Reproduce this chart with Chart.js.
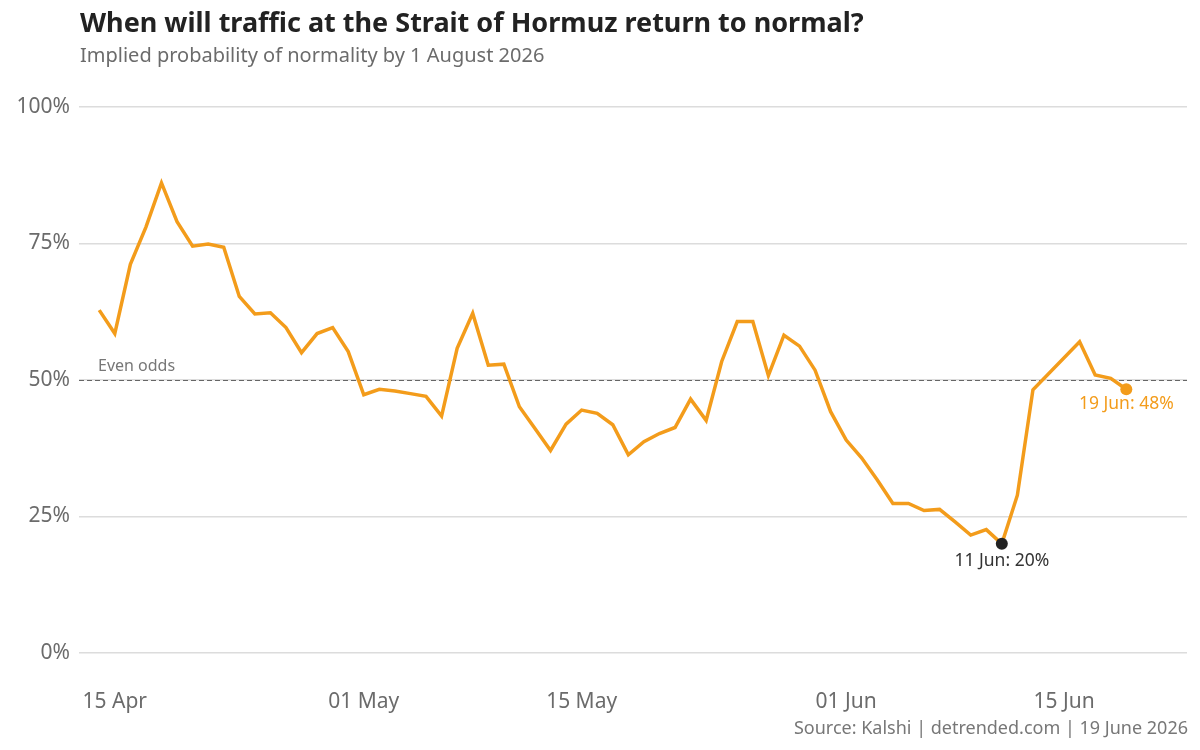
<!DOCTYPE html>
<html>
<head>
<meta charset="utf-8">
<script src="https://cdn.jsdelivr.net/npm/chart.js@4.4.1/dist/chart.umd.min.js"></script>
<style>
  html, body { margin: 0; padding: 0; background: #fff; }
  #wrap { position: relative; width: 1200px; height: 750px; font-family: "Noto Sans", sans-serif; }
  #chart { position: absolute; left: 0; top: 0; }
  .txt { position: absolute; white-space: nowrap; line-height: 1; }
  #title { left: 80px; top: 8px; font-size: 27px; font-weight: 700; color: #222; }
  #subtitle { left: 80px; top: 45px; font-size: 20px; color: #6b6b6b; }
  #source { right: 12px; top: 718px; font-size: 18px; color: #777; }
</style>
</head>
<body>
<div id="wrap">
  <canvas id="chart" width="1200" height="750"></canvas>
  <div class="txt" id="title">When will traffic at the Strait of Hormuz return to normal?</div>
  <div class="txt" id="subtitle">Implied probability of normality by 1 August 2026</div>
  <div class="txt" id="source">Source: Kalshi | detrended.com | 19 June 2026</div>
</div>
<script>
// days counted from 14 Apr 2026 (day 0); 12-13 Jun have no reading
const dayOffsets = [
  0, 1, 2, 3, 4, 5, 6, 7, 8, 9,
  10, 11, 12, 13, 14, 15, 16, 17, 18, 19,
  20, 21, 22, 23, 24, 25, 26, 27, 28, 29,
  30, 31, 32, 33, 34, 35, 36, 37, 38, 39,
  40, 41, 42, 43, 44, 45, 46, 47, 48, 49,
  50, 51, 52, 53, 54, 55, 56, 57, 58, 59,
  60, 63, 64, 65, 66
];
const probability = [
  62.8, 58.5, 71.2, 78.0, 86.1, 79.0, 74.5, 74.9, 74.3, 65.3,
  62.1, 62.3, 59.6, 55.0, 58.5, 59.6, 55.2, 47.3, 48.3, 48.0,
  47.5, 47.0, 43.4, 55.8, 62.2, 52.7, 52.9, 45.1, 41.1, 37.1,
  41.9, 44.5, 43.9, 41.8, 36.3, 38.7, 40.2, 41.3, 46.5, 42.6,
  53.4, 60.7, 60.7, 50.8, 58.2, 56.2, 51.8, 44.2, 39.0, 35.7,
  31.7, 27.4, 27.4, 26.1, 26.3, 24.0, 21.6, 22.6, 20.0, 28.9,
  48.2, 57.0, 50.9, 50.3, 48.3
];
const tickDays = [1, 17, 31, 48, 62];
const tickLabels = ["15 Apr", "01 May", "15 May", "01 Jun", "15 Jun"];
const yTicks = [0, 25, 50, 75, 100];
const evenOdds = 50;
const lowLabel = "11 Jun: 20%";
const lastLabel = "19 Jun: 48%";

const ORANGE = "#f39c1b";
const DARK = "#222";

const points = dayOffsets.map((d, i) => ({ x: d, y: probability[i] }));
const lowIdx = probability.indexOf(Math.min(...probability));
const lastIdx = probability.length - 1;

// dashed even-odds line plus the text annotations
const annotations = {
  id: "annotations",
  beforeDatasetsDraw(chart) {
    const { ctx, chartArea, scales } = chart;
    const y = Math.round(scales.y.getPixelForValue(evenOdds)) + 0.5;
    ctx.save();
    ctx.strokeStyle = "#666";
    ctx.lineWidth = 1;
    ctx.setLineDash([5, 3]);
    ctx.beginPath();
    ctx.moveTo(chartArea.left, y);
    ctx.lineTo(chartArea.right, y);
    ctx.stroke();
    ctx.setLineDash([]);
    ctx.font = '16px "Noto Sans"';
    ctx.fillStyle = "#777";
    ctx.textAlign = "left";
    ctx.textBaseline = "alphabetic";
    ctx.fillText("Even odds", 98, y - 10);
    ctx.restore();
  },
  afterDatasetsDraw(chart) {
    const { ctx, scales } = chart;
    ctx.save();
    ctx.textAlign = "center";
    ctx.textBaseline = "middle";
    let px = scales.x.getPixelForValue(dayOffsets[lowIdx]);
    let py = scales.y.getPixelForValue(probability[lowIdx]);
    ctx.font = '17.5px "Noto Sans"';
    ctx.fillStyle = "#333";
    ctx.fillText(lowLabel, px, py + 17);
    px = scales.x.getPixelForValue(dayOffsets[lastIdx]);
    py = scales.y.getPixelForValue(probability[lastIdx]);
    ctx.fillStyle = ORANGE;
    ctx.fillText(lastLabel, px, py + 15);
    ctx.restore();
  }
};

new Chart(document.getElementById("chart"), {
  type: "line",
  data: {
    datasets: [
      {
        label: "low",
        data: [points[lowIdx]],
        showLine: false,
        pointRadius: 6,
        pointBackgroundColor: DARK,
        pointBorderWidth: 0,
        order: 0
      },
      {
        label: "last",
        data: [points[lastIdx]],
        showLine: false,
        pointRadius: 6,
        pointBackgroundColor: ORANGE,
        pointBorderWidth: 0,
        order: 0
      },
      {
        label: "Probability",
        data: points,
        borderColor: ORANGE,
        borderWidth: 3.5,
        pointRadius: 0,
        tension: 0,
        borderJoinStyle: "miter",
        order: 1
      }
    ]
  },
  options: {
    responsive: false,
    animation: false,
    devicePixelRatio: 1,
    layout: { padding: { top: 107, right: 13, bottom: 0, left: 0 } },
    plugins: {
      legend: { display: false },
      tooltip: { enabled: false }
    },
    scales: {
      x: {
        type: "linear",
        min: -1.3,
        max: 69.9,
        grid: { display: false },
        border: { display: false },
        afterBuildTicks: s => { s.ticks = tickDays.map(v => ({ value: v })); },
        afterFit: s => { s.height = 97; },
        ticks: {
          padding: 28,
          maxRotation: 0,
          color: "#6b6b6b",
          font: { family: "Noto Sans", size: 21 },
          callback: v => tickLabels[tickDays.indexOf(v)]
        }
      },
      y: {
        min: 0,
        max: 100,
        grid: { color: "#dcdcdc", lineWidth: 1.5, drawTicks: false },
        border: { display: false },
        afterBuildTicks: s => { s.ticks = yTicks.map(v => ({ value: v })); },
        afterFit: s => { s.width = 79; },
        ticks: {
          padding: 9,
          color: "#6b6b6b",
          font: { family: "Noto Sans", size: 21 },
          callback: v => v + "%"
        }
      }
    }
  },
  plugins: [annotations]
});
</script>
</body>
</html>
